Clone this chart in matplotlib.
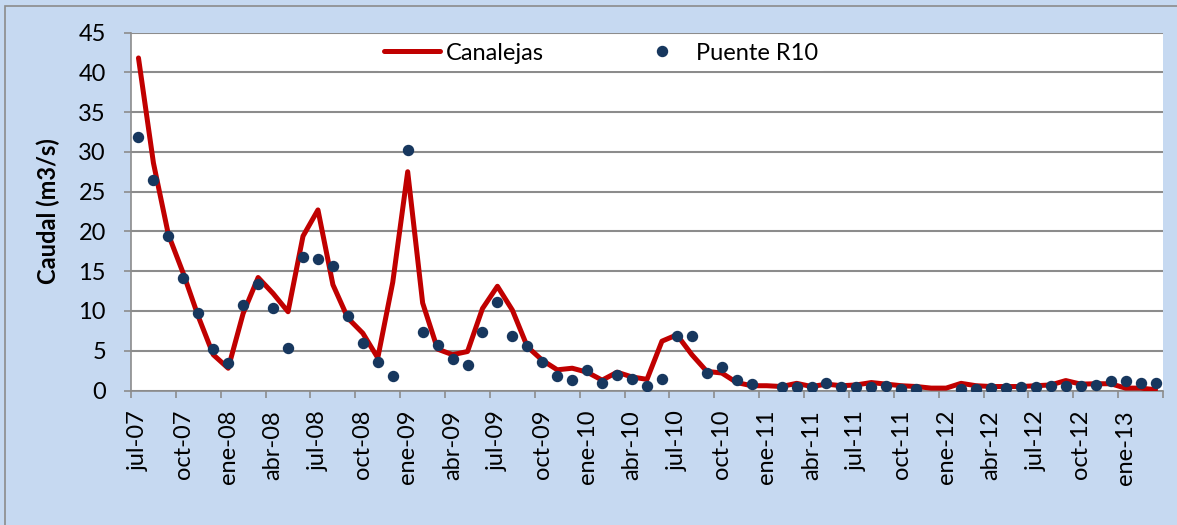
import numpy as np
import matplotlib
matplotlib.use("Agg")
import matplotlib.pyplot as plt
from matplotlib.patches import Rectangle

plt.rcParams['font.family'] = ['Lato', 'DejaVu Sans']

# caudal mensual, jul-07 .. mar-13
canalejas = [41.8, 28.6, 19.6, 14.7, 9.3, 4.5, 2.8, 9.7, 14.2, 12.2,
             9.9, 19.4, 22.7, 13.3, 9.1, 7.2, 4.1, 13.6, 27.5, 11.0,
             5.2, 4.5, 4.9, 10.3, 13.1, 10.1, 5.5, 3.8, 2.6, 2.8,
             2.3, 1.3, 2.3, 1.7, 1.4, 6.2, 7.0, 4.5, 2.4, 2.2,
             1.0, 0.6, 0.6, 0.5, 0.9, 0.5, 0.8, 0.6, 0.7, 1.0,
             0.8, 0.6, 0.5, 0.3, 0.3, 0.9, 0.6, 0.5, 0.5, 0.5,
             0.6, 0.7, 1.25, 0.8, 0.85, 0.85, 0.3, 0.3, 0.1]
puente_r10 = [31.9, 26.4, 19.4, 14.1, 9.7, 5.2, 3.5, 10.8, 13.4, 10.4,
              5.4, 16.8, 16.5, 15.6, 9.4, 6.0, 3.6, 1.8, 30.2, 7.4,
              5.7, 4.0, 3.2, 7.4, 11.1, 6.8, 5.6, 3.6, 1.8, 1.3,
              2.6, 1.0, 1.9, 1.4, 0.6, 1.4, 6.9, 6.9, 2.2, 2.9,
              1.3, 0.8, np.nan, 0.4, 0.5, 0.4, 1.0, 0.5, 0.5, 0.5,
              0.6, 0.25, 0.2, np.nan, np.nan, 0.2, 0.25, 0.3, 0.3, 0.4,
              0.4, 0.6, 0.6, 0.6, 0.7, 1.15, 1.2, 1.0, 1.0]
tick_labels = ['jul-07', 'oct-07', 'ene-08', 'abr-08', 'jul-08', 'oct-08',
               'ene-09', 'abr-09', 'jul-09', 'oct-09', 'ene-10', 'abr-10',
               'jul-10', 'oct-10', 'ene-11', 'abr-11', 'jul-11', 'oct-11',
               'ene-12', 'abr-12', 'jul-12', 'oct-12', 'ene-13']

W, H = 1177, 525
FS = 17
fig = plt.figure(figsize=(W / 100, H / 100), dpi=100)
fig.patch.set_facecolor('#C6D9F1')
fig.patches.append(Rectangle((5 / W, -0.1), 1.2, 1.1 - 6 / H, transform=fig.transFigure,
                             fill=False, edgecolor='#8C8C8C', lw=1.2))

ax = fig.add_axes([131 / W, 1 - 390.5 / H, (1163 - 131) / W, (390.5 - 32.5) / H])
ax.set_facecolor('white')

x = np.arange(len(canalejas))
ax.plot(x, canalejas, color='#C00000', lw=3.6, solid_joinstyle='round',
        solid_capstyle='round', label='Canalejas', zorder=3)
ax.plot(x, puente_r10, ls='none', marker='o', ms=7.2, color='#17375E',
        label='Puente R10', zorder=4)

ax.set_xlim(-0.5, len(x) - 0.5)
ax.set_ylim(0, 45)
ax.set_yticks(range(0, 46, 5))
ax.yaxis.grid(True, color='#8C8C8C', lw=1.5)
ax.set_axisbelow(True)

# marcas en los limites de mes, etiquetas centradas en el mes
ax.set_xticks(np.arange(-0.5, len(x), 3))
ax.set_xticklabels([])
ax.set_xticks(np.arange(0, 3 * len(tick_labels), 3), minor=True)
ax.set_xticklabels(tick_labels, minor=True, rotation=90, fontsize=FS)
ax.tick_params(axis='x', which='major', length=5, width=1.2, color='#8C8C8C')
ax.tick_params(axis='x', which='minor', length=0, pad=14)
ax.tick_params(axis='y', length=5, width=1.2, color='#8C8C8C', labelsize=FS, pad=13)

for s in ['top', 'right']:
    ax.spines[s].set_visible(False)
for s in ['left', 'bottom']:
    ax.spines[s].set_color('#8C8C8C')
    ax.spines[s].set_linewidth(1.2)

ax.set_ylabel('Caudal (m3/s)', fontsize=FS, fontweight='bold')
ax.yaxis.set_label_coords(-0.069, 0.5)

leg = ax.legend(loc='center', bbox_to_anchor=(601 / W, 1 - 53 / H),
                bbox_transform=fig.transFigure, ncol=2, frameon=True,
                fontsize=FS, handlelength=2.4, handletextpad=0.25,
                columnspacing=3.8, borderpad=0.3)
leg.get_frame().set_facecolor('white')
leg.get_frame().set_edgecolor('none')
leg.get_frame().set_alpha(1)

fig.savefig('out.png', dpi=100, facecolor=fig.get_facecolor())
